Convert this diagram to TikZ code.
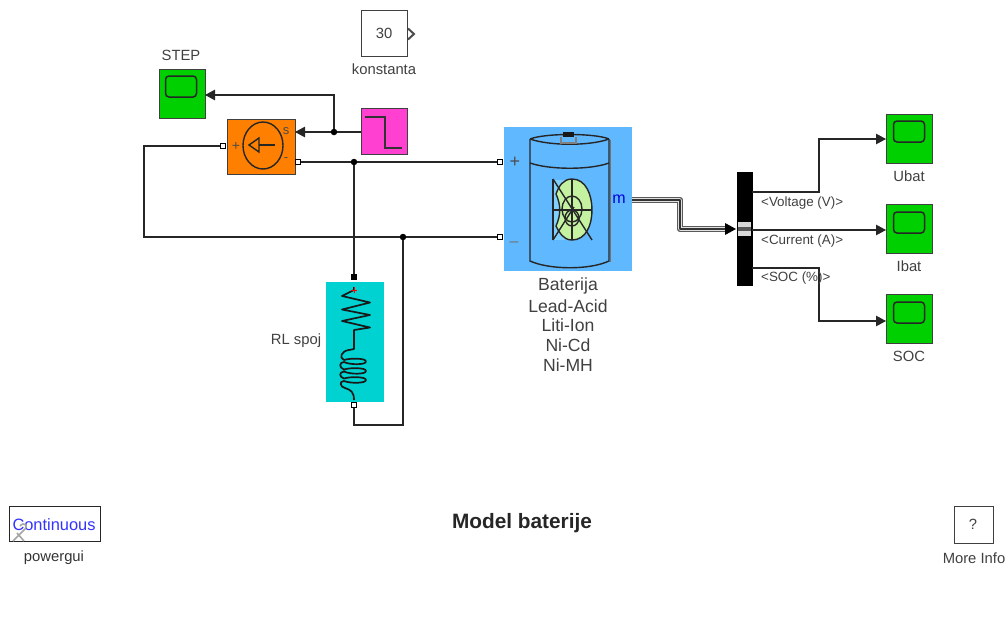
\documentclass[tikz,border=0pt]{standalone}
\usepackage{fontspec}
\setmainfont{Liberation Sans}
\usetikzlibrary{arrows.meta,calc}
\definecolor{scopegreen}{HTML}{00D000}
\definecolor{srcorange}{HTML}{FF8000}
\definecolor{pulsepink}{HTML}{FF40D0}
\definecolor{rlcyan}{HTML}{00D2D2}
\definecolor{batblue}{HTML}{60B8FF}
\definecolor{txt}{HTML}{404040}
\definecolor{discgreen}{HTML}{C4F2A0}
\definecolor{discblue}{HTML}{80D0FF}
\tikzset{
 x=1pt,y=-1pt,
 block/.style={draw=black!75,line width=1pt,inner sep=0pt,anchor=north west},
 lbl/.style={font=\fontsize{14.8}{15}\selectfont,text=txt,inner sep=0pt},
 buslbl/.style={font=\fontsize{13.4}{14}\selectfont,text=txt,inner sep=0pt,anchor=west},
 batlbl/.style={font=\fontsize{17.6}{18}\selectfont,text=txt,inner sep=0pt},
 port/.style={draw=black,fill=white,line width=1pt,minimum size=5pt,inner sep=0pt},
 dotj/.style={circle,fill=black,minimum size=6.5pt,inner sep=0pt},
 wire/.style={draw=black!85,line width=1.1pt},
 sig/.style={wire,-{Triangle[length=10pt,width=10.5pt]}},
 icon/.style={draw=black!85,line width=1.4pt},
 scopeface/.style={draw=black!85,line width=1.5pt,rounded corners=3.5pt},
}
\newcommand{\scopeicon}[2]{\draw[scopeface] (#1-15.5,#2-17) rectangle (#1+15.5,#2+4);}
\begin{document}
\begin{tikzpicture}
\useasboundingbox (0,0) rectangle (1007,616);

% blocks
\node[block,fill=scopegreen,minimum width=46pt,minimum height=49pt] (stepscope) at (159,69) {};
\node[block,fill=white,minimum width=46pt,minimum height=46pt] (konst) at (361,10) {};
\node[block,fill=pulsepink,minimum width=46pt,minimum height=46pt] (pulse) at (361,108) {};
\node[block,fill=srcorange,minimum width=68pt,minimum height=55pt] (src) at (227,119) {};
\node[block,draw=none,fill=batblue,minimum width=128pt,minimum height=144pt] (bat) at (503.5,126.5) {};
\node[block,draw=none,fill=rlcyan,minimum width=58pt,minimum height=120pt] (rl) at (325,281) {};
\node[block,draw=black,fill=black,minimum width=15pt,minimum height=113pt] (demux) at (737,172) {};
\node[block,fill=scopegreen,minimum width=46pt,minimum height=49pt] (ubat) at (886,114) {};
\node[block,fill=scopegreen,minimum width=46pt,minimum height=49pt] (ibat) at (886,204) {};
\node[block,fill=scopegreen,minimum width=46pt,minimum height=49pt] (soc) at (886,294) {};
\node[block,draw=black!85,line width=1.3pt,fill=white,minimum width=91pt,minimum height=35pt] (gui) at (9,506) {};
\node[block,fill=white,minimum width=39pt,minimum height=37pt] (info) at (954,506) {};

% ports
\node[port] (srcp) at (223,146) {};
\node[port] (srcn) at (298,162) {};
\node[port] (batp) at (500,162) {};
\node[port] (batn) at (500,237) {};
\node[port,fill=black] (rlt) at (354,277) {};
\node[port] (rlb) at (354,405) {};
\node[dotj] (j1) at (334,132) {};
\node[dotj] (j2) at (354,162) {};
\node[dotj] (j3) at (403,237) {};
\coordinate (srcs) at (295,132);
\coordinate (pulseo) at (361,132);
\coordinate (stepin) at (205,95);
\coordinate (c1) at (144,146);
\coordinate (c2) at (144,237);
\coordinate (c3) at (403,425);
\coordinate (c4) at (354,425);
\coordinate (m) at (632,200);
\coordinate (b1) at (680,200);
\coordinate (b2) at (680,229);
\coordinate (v0) at (752,192);
\coordinate (v1) at (819,192);
\coordinate (v2) at (819,139);
\coordinate (ui) at (886,139);
\coordinate (a0) at (752,230);
\coordinate (ii) at (886,230);
\coordinate (s0) at (752,268);
\coordinate (s1) at (819,268);
\coordinate (s2) at (819,321);
\coordinate (si) at (886,321);

% wires
\draw[wire] (pulseo) -- (j1);
\draw[sig] (j1) -- (srcs);
\draw[sig] (j1) -- (334,95) -- (stepin);
\draw[wire] (srcp.west) -- (c1) -- (c2) -- (j3) -- (batn.west);
\draw[wire] (srcn.east) -- (j2) -- (batp.west);
\draw[wire] (j2) -- (rlt.north);
\draw[wire] (j3) -- (c3) -- (c4) -- (rlb.south);
\draw[sig] (v0) -- (v1) -- (v2) -- (ui);
\draw[sig] (a0) -- (ii);
\draw[sig] (s0) -- (s1) -- (s2) -- (si);

% bus
\draw[draw=black!65,line width=6.4pt,line join=round] (m) -- (b1) -- (b2) -- (727,229);
\draw[draw=black!12,line width=3.8pt,line join=round] (m) -- (b1) -- (b2) -- (727,229);
\draw[draw=black!80,line width=1.2pt,line join=round] (m) -- (b1) -- (b2) -- (727,229);
\draw[fill=black,draw=none] (725,223) -- (736,229) -- (725,235) -- cycle;
\fill[black!15] (738,222) rectangle (751,236);
\fill[black!65] (738,226.5) rectangle (751,231);

% konstanta output port
\draw[draw=black!70,line width=2pt] (408,28.5) -- (414,34) -- (408,39.5);

% scope faces
\scopeicon{181}{93}
\scopeicon{909}{138}
\scopeicon{909}{229}
\scopeicon{909}{319}

% pulse icon
\draw[draw=black!80,line width=1.3pt] (365,117) -- (385,117) -- (385,148) -- (402,148);

% source icon
\draw[icon] (263,145.5) ellipse (20 and 23.5);
\draw[icon] (249,145) -- (259,138) -- (259,152) -- cycle;
\draw[icon] (259,145) -- (275,145);
\node[font=\fontsize{14}{14}\selectfont,text=black!70,inner sep=0pt] (tplus) at (236,146) {+};
\node[font=\fontsize{13}{13}\selectfont,text=black!70,inner sep=0pt] (ts) at (286,131) {s};
\node[font=\fontsize{13}{13}\selectfont,text=black!70,inner sep=0pt] (tminus) at (286,160) {-};

% battery icon
\draw[icon] (530,139) -- (530,261) .. controls (550,270) and (590,270) .. (609,261) -- (609,139);
\draw[icon] (530,139) .. controls (545,133) and (595,133) .. (609,139);
\draw[icon] (530,139) .. controls (550,146) and (590,146) .. (609,139);
\draw[icon] (530,163) .. controls (550,170) and (590,170) .. (609,163);
\fill[black!90] (563,131.5) rectangle (574,137);
\draw[draw=black!50,line width=1.4pt] (561,137) -- (561,143) -- (576,143) -- (576,137);
\draw[draw=black!55,line width=1.8pt] (610.5,140) -- (610.5,262);
\path[fill=discblue] (553,180) -- (570,180) -- (570,240) -- (553,240) -- cycle;
\draw[icon,fill=discgreen] (572,179) .. controls (586,179) and (592,195) .. (592,210) .. controls (592,225) and (586,240) .. (572,240) .. controls (563,240) and (559,232) .. (556,226) .. controls (561,215) and (561,205) .. (556,194) .. controls (559,186) and (563,179) .. (572,179) -- cycle;
\draw[icon] (553,179) -- (553,240);
\draw[icon] (553,179) -- (592,240);
\draw[icon] (553,240) -- (574,207);
\draw[icon] (572,179) -- (572,240);
\draw[icon] (553,210) -- (592,210);
\draw[icon] (572,209) ellipse (10 and 13);
\draw[icon] (572,218) ellipse (7 and 8);
\node[font=\fontsize{18}{18}\selectfont,text=black!70,inner sep=0pt] (bplus) at (515,162) {+};
\node[font=\fontsize{16}{16}\selectfont,text=black!55,inner sep=0pt] (bminus) at (514,244) {\textendash};
\node[font=\fontsize{16}{16}\selectfont,text=blue!85!black,inner sep=0pt] (bm) at (619,199) {m};

% RL icon
\draw[draw=black!90,line width=1.7pt,line join=round] (354,287) -- (354,290) -- (342,296) -- (370,302.5) -- (342,309.5) -- (370,315) -- (342,321) -- (370,327.5) -- (354,330) -- (354,349) -- (349,350)
 .. controls (341,351) and (339,358) .. (344,360)
 .. controls (350,358) and (366,358) .. (366,361.5)
 .. controls (366,365) and (350,365) .. (344,362)
 .. controls (339,362) and (339,368) .. (344,369.5)
 .. controls (350,367.5) and (366,367.5) .. (366,371)
 .. controls (366,374.5) and (350,374.5) .. (344,371.5)
 .. controls (339,372) and (339,377) .. (344,378.5)
 .. controls (350,376.5) and (366,376.5) .. (366,380)
 .. controls (366,383.5) and (350,383.5) .. (344,381)
 .. controls (339,381) and (340,387) .. (345,388)
 .. controls (351,390) and (354,392) .. (354,400);
\draw[draw=red,line width=.7pt] (351,290) -- (357,290) (354,287) -- (354,293);

% labels
\node[lbl] (lstep) at (181,55.5) {STEP};
\node[lbl] (lkon) at (384,69.5) {konstanta};
\node[lbl] (l30) at (384,33) {30};
\node[lbl] (lub) at (909,176) {Ubat};
\node[lbl] (lib) at (909,266.5) {Ibat};
\node[lbl] (lsoc) at (909,356) {SOC};
\node[lbl] (lrl) at (296,341) {RL spoj};
\node[buslbl] (lv) at (761,203) {<Voltage (V)>};
\node[buslbl] (lc) at (761,241) {<Current (A)>};
\node[buslbl] (ls) at (761,278) {<SOC (\%)>};
\node[batlbl] (b0) at (568,285.5) {Baterija};
\node[batlbl] (b1t) at (568,306) {Lead-Acid};
\node[batlbl] (b2t) at (568,325) {Liti-Ion};
\node[batlbl] (b3t) at (568,345) {Ni-Cd};
\node[batlbl] (b4t) at (568,365) {Ni-MH};
\node[font=\bfseries\fontsize{20.8}{21}\selectfont,text=black!85,inner sep=0pt] (title) at (522,523.5) {Model baterije};
\node[font=\fontsize{16.4}{17}\selectfont,text=blue!80,inner sep=0pt] (cont) at (54,525) {Continuous};
\node[lbl,text=black!80] (pg) at (54,558) {powergui};
\node[lbl] (qm) at (973,524) {?};
\node[lbl] (mi) at (974,558) {More Info};
% powergui ghost icon
\draw[draw=black!35,line width=1.6pt] (13,541) -- (24,530) (24,530) .. controls (29,526) and (24,521) .. (20,526) (17,533) -- (24,541);
\end{tikzpicture}
\end{document}
